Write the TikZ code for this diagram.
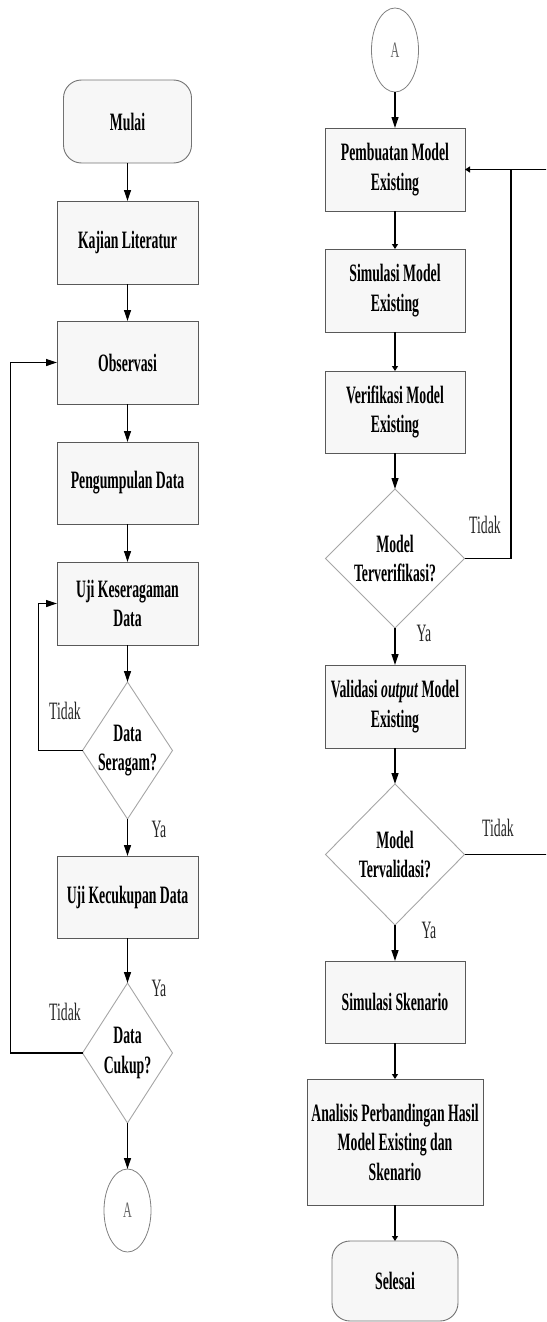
\documentclass[tikz,border=0pt]{standalone}
\usepackage{fontspec}
\setmainfont{Liberation Serif}[FakeStretch=0.55]
\usetikzlibrary{shapes.geometric,arrows.meta}
\begin{document}
\begin{tikzpicture}[x=1pt,y=-1pt,
  every node/.style={inner sep=0pt, outer sep=0pt},
  bfont/.style={font=\fontsize{25}{29.5}\selectfont\bfseries, align=center},
  rfont/.style={font=\fontsize{25}{29.5}\selectfont, text=black!85},
  box/.style={rectangle, draw=black!65, fill=black!3, line width=0.9pt, minimum width=140pt, minimum height=83pt, bfont},
  term/.style={box, rounded corners=18pt, draw=black!55},
  dec/.style={diamond, draw=black!35, fill=white, line width=0.9pt},
  conn/.style={ellipse, draw=black!50, line width=0.8pt, minimum width=47pt, minimum height=83pt, font=\fontsize{22}{24}\selectfont, text=black!60},
  arr/.style={line width=1.2pt, -{Triangle[length=11pt,width=7pt]}},
  sarr/.style={line width=1.2pt, -{Triangle[length=5pt,width=6pt]}},
  plain/.style={line width=1.2pt}
]
\useasboundingbox (0,0) rectangle (546,1322);
\clip (0,0) rectangle (546,1322);
% left column
\node[term, minimum width=128pt] (mulai) at (127.5,121.5) {Mulai};
\node[box, minimum width=141pt] (kaj) at (127.5,242.5) {Kajian Literatur};
\node[box, minimum width=141pt] (obs) at (127.5,362.5) {Observasi};
\node[box, minimum width=141pt, minimum height=82pt] (peng) at (127.5,483) {Pengumpulan Data};
\node[box, minimum width=141pt] (keser) at (127.5,603.5) {Uji Keseragaman\\Data};
\node[dec, minimum width=90pt, minimum height=137pt, label={[bfont]center:Data\\Seragam?}] (ser) at (127.5,750.5) {};
\node[box, minimum width=141pt, minimum height=82pt] (kecuk) at (127.5,897) {Uji Kecukupan Data};
\node[dec, minimum width=90pt, minimum height=140pt, label={[bfont]center:Data\\Cukup?}] (cuk) at (127.5,1053) {};
\node[conn] (a1) at (127.5,1210.5) {A};
% right column
\node[conn, minimum height=84pt] (a2) at (395,50) {A};
\node[box] (pem) at (395,169.5) {Pembuatan Model\\Existing};
\node[box] (simm) at (395,290.5) {Simulasi Model\\Existing};
\node[box, minimum height=82pt] (ver) at (395,412) {Verifikasi Model\\Existing};
\node[dec, minimum width=139pt, minimum height=139pt, label={[bfont]center:Model\\Terverifikasi?}] (tv) at (395,558.5) {};
\node[box] (val) at (395,706.5) {Validasi \textit{output} Model\\Existing};
\node[dec, minimum width=139pt, minimum height=141pt, label={[bfont]center:Model\\Tervalidasi?}] (tl) at (395,854.5) {};
\node[box, minimum height=82pt] (sims) at (395,1002) {Simulasi Skenario};
\node[box, minimum width=176pt, minimum height=126pt] (ana) at (395,1142) {Analisis Perbandingan Hasil\\Model Existing dan\\Skenario};
\node[term, minimum width=126pt, minimum height=80pt] (sel) at (395,1281) {Selesai};
% labels
\node[rfont] (t1) at (65,711) {Tidak};
\node[rfont] (y1) at (159,829) {Ya};
\node[rfont] (y2) at (159,988) {Ya};
\node[rfont] (t2) at (65,1012) {Tidak};
\node[rfont] (t3) at (485,525) {Tidak};
\node[rfont] (y3) at (424,633) {Ya};
\node[rfont] (t4) at (498,828) {Tidak};
\node[rfont] (y4) at (429,930) {Ya};
% connectors left
\draw[arr] (mulai) -- (kaj);
\draw[arr] (kaj) -- (obs);
\draw[arr] (obs) -- (peng);
\draw[arr] (peng) -- (keser);
\draw[arr] (keser) -- (ser);
\draw[arr] (ser) -- (kecuk);
\draw[arr] (kecuk) -- (cuk);
\draw[arr] (cuk) -- (a1);
\draw[arr] (ser.west) -- ++(-44,0) |- (keser.west);
\draw[arr] (cuk.west) -- ++(-72,0) |- (obs.west);
% connectors right
\draw[arr] (a2) -- (pem);
\draw[sarr] (pem) -- (simm);
\draw[sarr] (simm) -- (ver);
\draw[arr] (ver) -- (tv);
\draw[arr] (tv) -- (val);
\draw[arr] (val) -- (tl);
\draw[arr] (tl) -- (sims);
\draw[sarr] (sims) -- (ana);
\draw[sarr] (ana) -- (sel);
\coordinate (fbtop) at (511,169.5);
\draw[plain] (tv.east) -| (fbtop);
\draw[sarr] (tl.east) -- ++(90,0) |- (pem.east);
\end{tikzpicture}
\end{document}
